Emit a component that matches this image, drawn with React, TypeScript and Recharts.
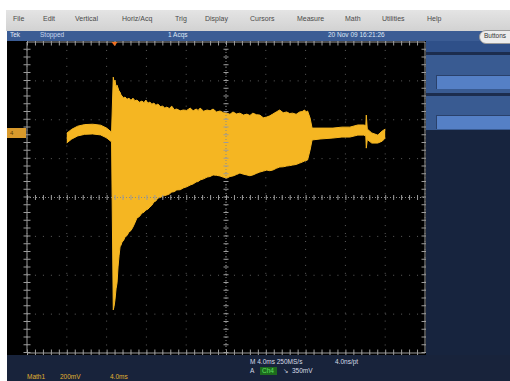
import React from "react";
import { Area, CartesianGrid, ComposedChart, ReferenceDot, ReferenceLine, XAxis, YAxis } from "recharts";

// Math1 trace, time in ms (4 ms/div) and level in mV (200 mV/div)
const timeMs = [
  4.0, 4.5, 5.1, 5.8, 6.6, 7.4, 8.0, 8.5,
  8.67, 8.75, 8.84, 8.95, 9.05, 9.15, 9.25, 9.35, 9.45, 9.55, 9.7, 9.85, 10.05, 10.25, 10.45, 10.65, 10.85,
  11.05, 11.3, 11.55, 11.75, 11.95, 12.15, 12.35, 12.55, 12.75, 12.95, 13.15, 13.4, 13.65, 13.85, 14.05, 14.3,
  14.55, 14.8, 15.05, 15.4, 15.7, 16.05, 16.4, 16.7, 17.0, 17.2, 17.4, 17.75, 18.1, 18.4, 18.7, 19.05, 19.4,
  19.75, 20.1, 20.4, 20.7, 21.05, 21.4, 21.75, 22.1, 22.4, 22.7, 23.05, 23.4, 23.75, 24.1, 24.4, 24.7, 25.05,
  25.4, 25.75, 26.1, 26.4, 26.7, 27.05, 27.4, 27.65, 27.9, 28.05, 28.2, 28.45,
  28.65, 29.45, 30.75, 31.65, 32.45, 33.25, 33.85, 34.05, 34.1, 34.2, 34.65, 35.25, 35.7, 36.0
];
const upperMv = [
  331, 351, 367, 375, 377, 372, 357, 336,
  619, 590, 604, 570, 578, 563, 548, 542, 528, 522, 512, 517, 505, 511, 500, 511, 498,
  501, 490, 496, 488, 501, 485, 491, 480, 486, 474, 481, 468, 470, 460, 465, 458,
  470, 452, 455, 446, 450, 448, 460, 446, 455, 448, 460, 444, 450, 446, 455, 440, 445,
  436, 434, 428, 440, 430, 434, 424, 429, 422, 434, 426, 424, 410, 414, 420, 429, 440,
  450, 436, 440, 432, 434, 428, 440, 442, 450, 440, 445, 409,
  357, 357, 357, 362, 362, 373, 373, 370, 424, 352, 332, 321, 342, 352
];
const lowerMv = [
  281, 301, 317, 325, 327, 322, 307, 286,
  -578, -560, -527, -470, -439, -357, -300, -254, -245, -229, -222, -203, -196, -177, -170, -152, -130,
  -105, -98, -80, -76, -64, -60, -49, -40, -23, -18, -3, 0, 8, 10, 13, 18,
  28, 30, 39, 40, 49, 55, 64, 70, 80, 82, 90, 96, 105, 108, 116, 114, 111,
  104, 100, 108, 111, 118, 126, 120, 116, 112, 116, 124, 131, 136, 141, 138, 141, 150,
  157, 158, 162, 164, 167, 170, 177, 182, 188, 190, 193, 244,
  296, 301, 306, 311, 311, 321, 321, 316, 254, 298, 280, 280, 290, 306
];

const xTicks = [0, 4, 8, 12, 16, 20, 24, 28, 32, 36, 40];
const yTicks = [-800, -600, -400, -200, 0, 200, 400, 600, 800];
const triggerMs = 8.8;

const menuItems = [
  { label: "File", x: 13 },
  { label: "Edit", x: 43 },
  { label: "Vertical", x: 75 },
  { label: "Horiz/Acq", x: 122 },
  { label: "Trig", x: 175 },
  { label: "Display", x: 205 },
  { label: "Cursors", x: 250 },
  { label: "Measure", x: 297 },
  { label: "Math", x: 345 },
  { label: "Utilities", x: 382 },
  { label: "Help", x: 427 }
];

const data = timeMs.map((t, i) => ({ t, band: [lowerMv[i], upperMv[i]] }));

const trace = "#f5b622";
const font = "'Liberation Sans', 'DejaVu Sans', sans-serif";

function Txt({ x, y, size = 7, color, children }: { x: number; y: number; size?: number; color: string; children: React.ReactNode }) {
  return (
    <div style={{ position: "absolute", left: x, top: y, fontSize: size, color, fontFamily: font, whiteSpace: "nowrap", lineHeight: 1 }}>
      {children}
    </div>
  );
}

function Box({ x, y, w, h, bg, extra }: { x: number; y: number; w: number; h: number; bg: string; extra?: React.CSSProperties }) {
  return <div style={{ position: "absolute", left: x, top: y, width: w, height: h, background: bg, ...extra }} />;
}

export default function App() {
  return (
    <div style={{ position: "fixed", left: 0, top: 0, width: 510, height: 381, background: "#fff", overflow: "hidden" }}>
      {/* menu bar */}
      <Box x={6} y={10} w={504} h={21} bg="linear-gradient(#e4e4e4, #d2d2d2)" />
      {menuItems.map((m) => (
        <Txt key={m.label} x={m.x} y={15} color="#4a4a4a">{m.label}</Txt>
      ))}
      {/* status bar */}
      <Box x={7} y={31} w={503} h={10} bg="#3b5c94" />
      <Txt x={10} y={32} size={6.5} color="#e4ebf7">Tek</Txt>
      <Txt x={40} y={32} size={6.5} color="#c9d6ee">Stopped</Txt>
      <Txt x={168} y={32} size={6.5} color="#dfe7f5">1 Acqs</Txt>
      <Txt x={328} y={32} size={6.5} color="#dfe7f5">20 Nov 09 16:21:26</Txt>
      {/* right panel */}
      <Box x={426} y={41} w={84} h={11} bg="#2f5089" />
      <Box x={426} y={52} w={84} h={3} bg="#1c2d4e" />
      <Box x={426} y={55} w={84} h={38} bg="#395b92" />
      <Box x={436} y={75} w={74} h={13} bg="#5580c6" extra={{ borderTop: "1px solid #2a416b", borderLeft: "1px solid #2a416b" }} />
      <Box x={426} y={93} w={84} h={3} bg="#1c2d4e" />
      <Box x={426} y={96} w={84} h={34} bg="#395b92" />
      <Box x={436} y={115} w={74} h={13} bg="#5580c6" extra={{ borderTop: "1px solid #2a416b", borderLeft: "1px solid #2a416b" }} />
      <Box x={426} y={130} w={84} h={225} bg="#17243e" />
      <div style={{ position: "absolute", left: 479, top: 30, width: 40, height: 12, borderRadius: 7, background: "#ececec", border: "1px solid #999" }} />
      <Txt x={484} y={33} size={6.5} color="#333">Buttons</Txt>
      {/* bottom readout */}
      <Box x={7} y={355} w={503} h={26} bg="#18233b" />
      <Txt x={250} y={359} size={6.5} color="#d6dbe6">M 4.0ms 250MS/s</Txt>
      <Txt x={335} y={359} size={6.5} color="#d6dbe6">4.0ns/pt</Txt>
      <Txt x={250} y={368} size={6.5} color="#d6dbe6">A</Txt>
      <div style={{ position: "absolute", left: 260, top: 367, width: 17, height: 8, background: "#1d6b1d" }} />
      <Txt x={262} y={368} size={6.5} color="#5de05d">Ch4</Txt>
      <Txt x={283} y={368} size={6.5} color="#d6dbe6">↘</Txt>
      <Txt x={292} y={368} size={6.5} color="#d6dbe6">350mV</Txt>
      <Txt x={27} y={374} size={6.5} color="#e0b030">Math1</Txt>
      <Txt x={60} y={374} size={6.5} color="#e0b030">200mV</Txt>
      <Txt x={110} y={374} size={6.5} color="#e0b030">4.0ms</Txt>
      {/* scope screen */}
      <div style={{ position: "absolute", left: 7, top: 41, width: 419, height: 314, background: "#000" }}>
        <ComposedChart width={419} height={314} data={data} margin={{ top: 1, right: 1, bottom: 2, left: 20 }}>
          <XAxis dataKey="t" type="number" domain={[0, 40]} ticks={xTicks} hide />
          <YAxis type="number" domain={[-800, 800]} ticks={yTicks} hide />
          <CartesianGrid stroke="#5e5e5e" strokeDasharray="1 6.96" />
          <ReferenceLine x={20} stroke="#8a8a8a" strokeDasharray="1 2" />
          <ReferenceLine x={20} stroke="#9c9c9c" strokeWidth={5} strokeDasharray="1 6.775" />
          <ReferenceLine y={0} stroke="#8a8a8a" strokeDasharray="1 2" />
          <ReferenceLine y={0} stroke="#9c9c9c" strokeWidth={5} strokeDasharray="1 6.96" />
          <ReferenceLine x={0} stroke="#9c9c9c" />
          <ReferenceLine x={40} stroke="#9c9c9c" />
          <ReferenceLine y={800} stroke="#9c9c9c" />
          <ReferenceLine y={-800} stroke="#9c9c9c" />
          <ReferenceLine x={0} stroke="#9c9c9c" strokeWidth={7} strokeDasharray="1 6.775" />
          <ReferenceLine x={40} stroke="#9c9c9c" strokeWidth={7} strokeDasharray="1 6.775" />
          <ReferenceLine y={800} stroke="#9c9c9c" strokeWidth={7} strokeDasharray="1 6.96" />
          <ReferenceLine y={-800} stroke="#9c9c9c" strokeWidth={7} strokeDasharray="1 6.96" />
          <Area
            type="linear"
            dataKey="band"
            stroke={trace}
            strokeWidth={1}
            fill={trace}
            fillOpacity={1}
            dot={false}
            activeDot={false}
            isAnimationActive={false}
          />
          <ReferenceDot
            x={triggerMs}
            y={800}
            r={3}
            shape={(p: any) => (
              <polygon points={`${p.cx - 3},${p.cy} ${p.cx + 3},${p.cy} ${p.cx},${p.cy + 4}`} fill="#f07020" />
            )}
          />
        </ComposedChart>
      </div>
      {/* channel 4 ground marker */}
      <div style={{ position: "absolute", left: 7, top: 128, width: 19, height: 10, background: "#d99a2c" }} />
      <Txt x={10} y={130} size={6} color="#5a3a00">4</Txt>
    </div>
  );
}
